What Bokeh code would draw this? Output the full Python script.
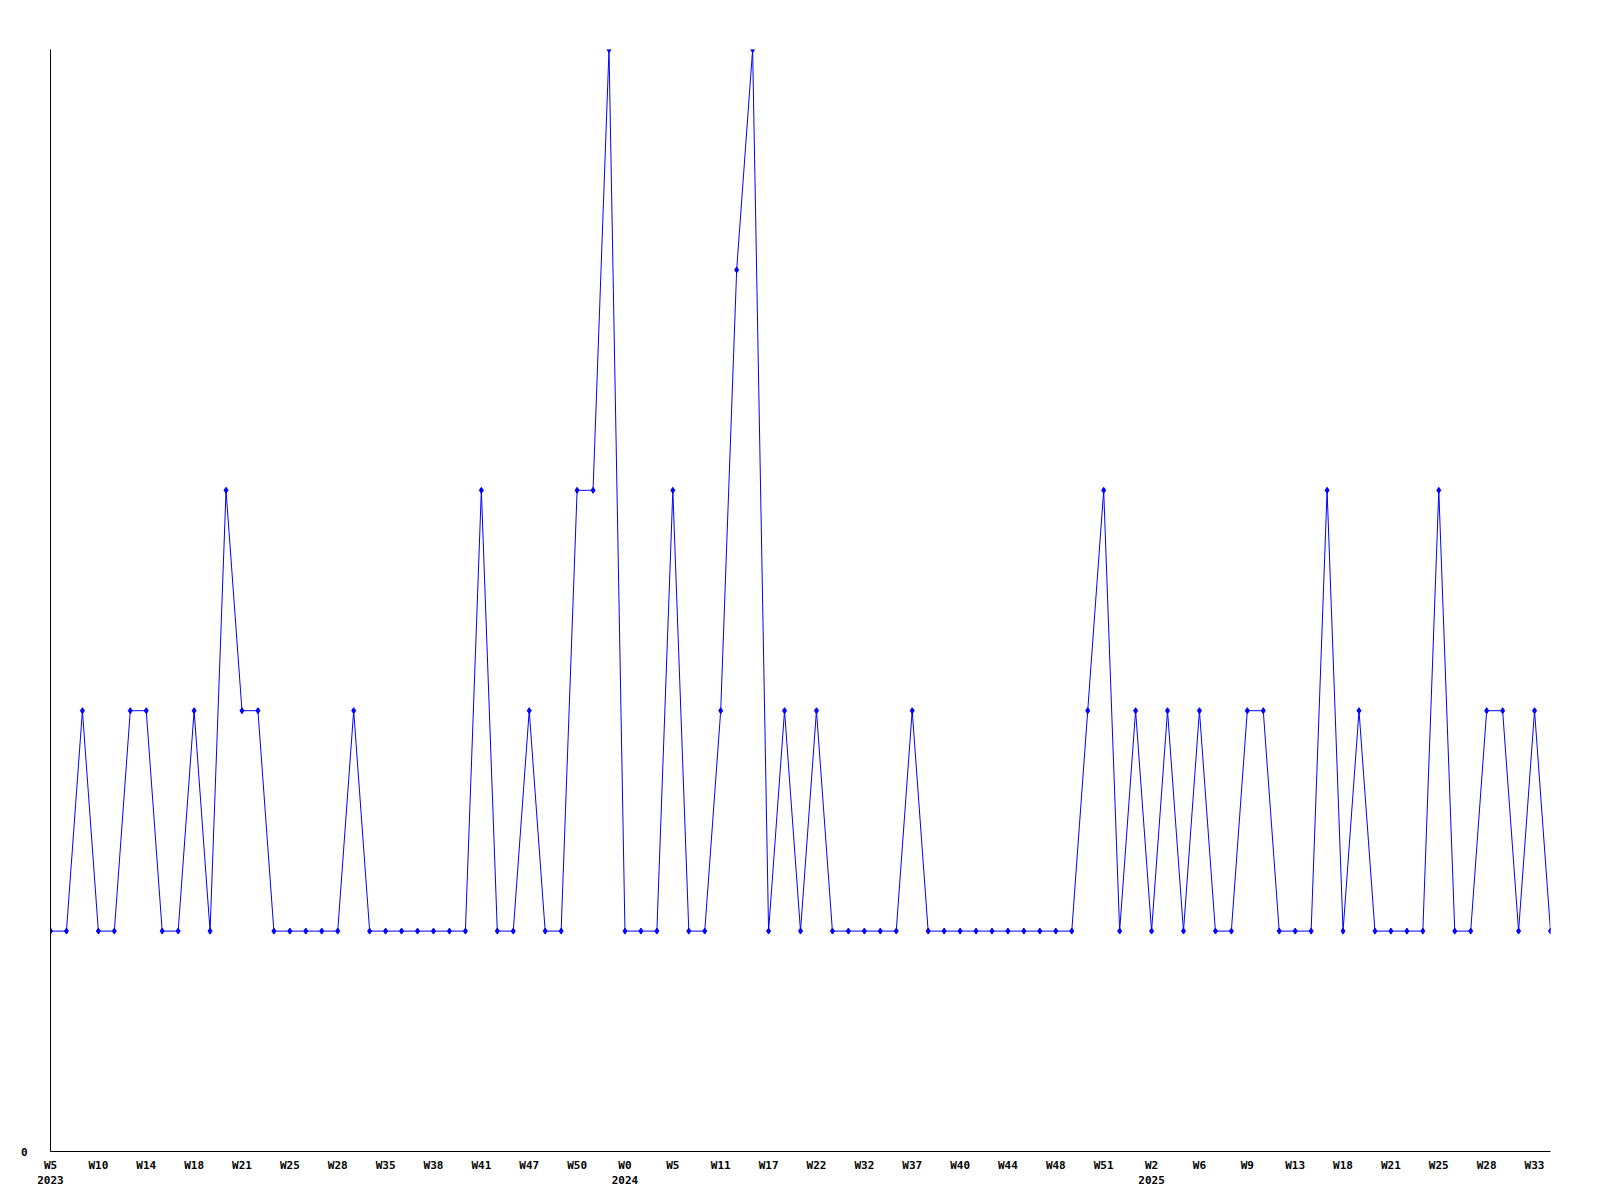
from bokeh.plotting import figure
from bokeh.models import FixedTicker, Range1d
from bokeh.embed import file_html
from bokeh.resources import INLINE

# weekly counts, one point per reported week
counts = [1, 1, 2, 1, 1, 2, 2, 1, 1, 2,
          1, 3, 2, 2, 1, 1, 1, 1, 1, 2,
          1, 1, 1, 1, 1, 1, 1, 3, 1, 1,
          2, 1, 1, 3, 3, 5, 1, 1, 1, 3,
          1, 1, 2, 4, 5, 1, 2, 1, 2, 1,
          1, 1, 1, 1, 2, 1, 1, 1, 1, 1,
          1, 1, 1, 1, 1, 2, 3, 1, 2, 1,
          2, 1, 2, 1, 1, 2, 2, 1, 1, 1,
          3, 1, 2, 1, 1, 1, 1, 3, 1, 1,
          2, 2, 1, 2, 1]

tick_labels = ["W5\n2023", "W10", "W14", "W18", "W21", "W25", "W28", "W35",
               "W38", "W41", "W47", "W50", "W0\n2024", "W5", "W11", "W17",
               "W22", "W32", "W37", "W40", "W44", "W48", "W51", "W2\n2025",
               "W6", "W9", "W13", "W18", "W21", "W25", "W28", "W33"]
label_every = 3

x = list(range(len(counts)))
tick_pos = [i * label_every for i in range(len(tick_labels))]

p = figure(width=1592, height=1192, output_backend="svg", toolbar_location=None,
           min_border_left=50, min_border_right=42, min_border_top=49, min_border_bottom=41,
           x_range=Range1d(0, len(counts) - 1), y_range=Range1d(0, 5))
p.outline_line_color = None
p.xgrid.grid_line_color = None
p.ygrid.grid_line_color = None

p.line(x, counts, line_color="#0000ff", line_width=1)
p.scatter(x, counts, marker="diamond", size=6, color="#0000ff")

p.xaxis.ticker = FixedTicker(ticks=tick_pos)
p.xaxis.major_label_overrides = {pos: lab for pos, lab in zip(tick_pos, tick_labels)}
p.yaxis.ticker = FixedTicker(ticks=[0])
p.yaxis.major_label_overrides = {0: "0"}

for ax in (p.xaxis, p.yaxis):
    ax.axis_line_color = "black"
    ax.axis_line_width = 1
    ax.major_tick_line_color = None
    ax.minor_tick_line_color = None
    ax.major_label_text_font = "DejaVu Sans Mono"
    ax.major_label_text_font_style = "bold"
    ax.major_label_text_font_size = "11px"
    ax.major_label_text_color = "black"

p.xaxis.major_label_standoff = 1
p.yaxis.major_label_standoff = 17

open("out.html", "w").write(file_html(p, INLINE))
